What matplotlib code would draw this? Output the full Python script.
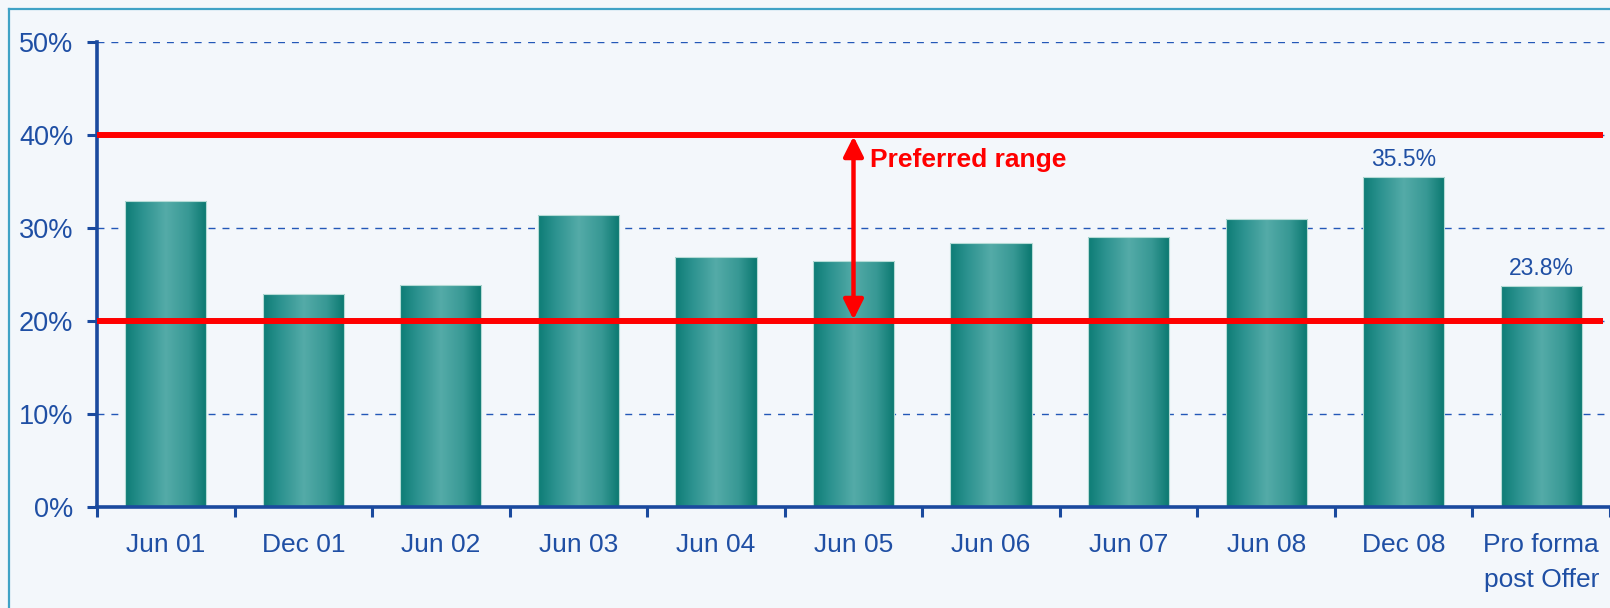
import numpy as np
import matplotlib.pyplot as plt
from matplotlib.colors import LinearSegmentedColormap
from matplotlib.lines import Line2D

plt.rcParams['font.family'] = ['Liberation Sans', 'DejaVu Sans']

# donnees
categories = ['Jun 01', 'Dec 01', 'Jun 02', 'Jun 03', 'Jun 04', 'Jun 05',
              'Jun 06', 'Jun 07', 'Jun 08', 'Dec 08', 'Pro forma\npost Offer']
ratios = [32.9, 22.9, 23.9, 31.4, 26.9, 26.5, 28.4, 29.0, 31.0, 35.5, 23.8]
labelled = [9, 10]          # barres avec etiquette de valeur
range_bounds = [20, 40]     # bornes de la zone preferee
range_text = 'Preferred range'
arrow_at = 5                # barre ou se trouve la fleche
yticks = [0, 10, 20, 30, 40, 50]

# couleurs
bg = '#f3f7fb'
blue = '#1a4a9e'
txt = '#1f4fa4'
grid_c = '#2358b8'
red = '#ff0000'

fig = plt.figure(figsize=(16.1, 6.08), dpi=100)
fig.patch.set_facecolor(bg)
ax = fig.add_axes([97 / 1610, 1 - 507 / 608, 1 - 97 / 1610, (507 - 42) / 608])
ax.set_facecolor('none')

# barres avec degrade horizontal
x = np.arange(len(categories))
bars = ax.bar(x, ratios, width=0.59, color='none', edgecolor='#b5dbd6',
              linewidth=0.8, zorder=2)
cmap = LinearSegmentedColormap.from_list(
    'teal', [(0, '#0d7c75'), (0.2, '#2a918e'), (0.5, '#54aba8'),
             (0.78, '#379894'), (1, '#0a7870')])
grad = np.linspace(0, 1, 256).reshape(1, -1)
for b in bars:
    x0, h, w = b.get_x(), b.get_height(), b.get_width()
    im = ax.imshow(grad, cmap=cmap, aspect='auto',
                   extent=[x0, x0 + w, 0, h], zorder=1.9)
    im.set_clip_path(b)

# etiquettes de valeur
for i in labelled:
    ax.annotate(f'{ratios[i]:.1f}%', (x[i], ratios[i]), xytext=(0, 4),
                textcoords='offset points', ha='center', va='bottom',
                fontsize=16.5, color=txt)

# zone preferee
ax.hlines(range_bounds, -0.5, 10.45, color=red, linewidth=4.3, zorder=3)
ax.annotate('', xy=(x[arrow_at], range_bounds[1]), xytext=(x[arrow_at], range_bounds[0]),
            arrowprops=dict(arrowstyle='<|-|>', color=red, lw=3.2,
                            mutation_scale=30, shrinkA=1, shrinkB=1), zorder=4)
ax.text(x[arrow_at] + 0.12, 37.3, range_text, color=red, fontsize=19,
        fontweight='bold', va='center')

# axes
ax.set_xlim(-0.5, len(categories) - 0.5)
ax.set_ylim(0, 50)
ax.set_yticks(yticks, [f'{t}%' for t in yticks])
ax.yaxis.grid(True, linestyle=(0, (5, 5)), color=grid_c, linewidth=1.0)
ax.set_axisbelow(True)
ax.set_xticks(x, categories)
ax.set_xticks(np.arange(-0.5, len(categories), 1), minor=True)
ax.tick_params(axis='x', which='major', length=0, pad=19, labelsize=19, labelcolor=txt)
ax.tick_params(axis='x', which='minor', length=7, width=2.2, color=blue)
ax.tick_params(axis='y', length=7, width=2.2, color=blue, pad=10, labelsize=19.5, labelcolor=txt)
for lab in ax.get_xticklabels():
    lab.set_linespacing(1.55)
for s in ['top', 'right']:
    ax.spines[s].set_visible(False)
for s in ['left', 'bottom']:
    ax.spines[s].set_color(blue)
    ax.spines[s].set_linewidth(2.6)

# cadre
fig.add_artist(Line2D([9 / 1610, 9 / 1610], [0, 1 - 9 / 608],
                      transform=fig.transFigure, color='#3fa2c6', lw=1.6))
fig.add_artist(Line2D([9 / 1610, 1], [1 - 9 / 608, 1 - 9 / 608],
                      transform=fig.transFigure, color='#3fa2c6', lw=1.6))

fig.savefig('out.png', dpi=100, facecolor=bg)
